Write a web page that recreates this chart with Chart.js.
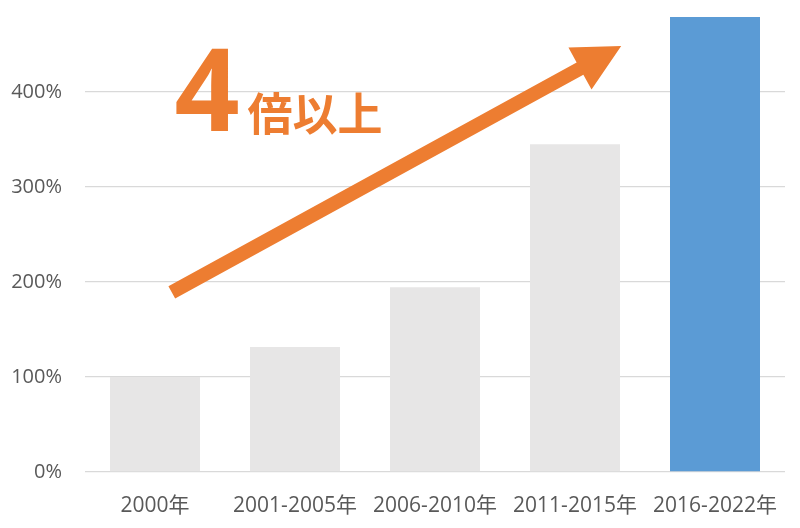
<!DOCTYPE html>
<html>
<head>
<meta charset="utf-8">
<script src="https://cdn.jsdelivr.net/npm/chart.js@4"></script>
<style>
  html, body { margin: 0; padding: 0; background: #fff; }
  #wrap { width: 800px; height: 528px; }
</style>
</head>
<body>
<div id="wrap"><canvas id="myChart"></canvas></div>
<script>
const categories = ['2000年', '2001-2005年', '2006-2010年', '2011-2015年', '2016-2022年'];
const values = [100, 131.5, 194.5, 345, 479];
const barColors = ['#e7e6e6', '#e7e6e6', '#e7e6e6', '#e7e6e6', '#5b9bd5'];
const yTicks = [0, 100, 200, 300, 400];

const FONT = "'Open Sans', 'Noto Sans CJK JP', sans-serif";
const ORANGE = '#ed7d31';

// arrow + "4倍以上" label, placed in (category index, value) space
const arrowFrom = [0.12, 189];
const arrowTo = [3.33, 448.5];
const bigLabel = { x: 0.14, y: 359 };
const smallLabel = { x: 0.66, y: 353 };

const overlay = {
  id: 'overlay',
  afterDatasetsDraw(chart) {
    const { ctx, scales: { x, y } } = chart;
    const px = i => x.getPixelForValue(0) + i * (x.getPixelForValue(1) - x.getPixelForValue(0));
    const x0 = px(arrowFrom[0]), y0 = y.getPixelForValue(arrowFrom[1]);
    const x1 = px(arrowTo[0]), y1 = y.getPixelForValue(arrowTo[1]);
    const ang = Math.atan2(y1 - y0, x1 - x0);
    const headLen = 47, headHalf = 24, shaft = 7;
    const bx = x1 - headLen * Math.cos(ang), by = y1 - headLen * Math.sin(ang);
    const nx = -Math.sin(ang), ny = Math.cos(ang);

    ctx.save();
    ctx.fillStyle = ORANGE;
    ctx.beginPath();
    ctx.moveTo(x0 + nx * shaft, y0 + ny * shaft);
    ctx.lineTo(bx + nx * shaft, by + ny * shaft);
    ctx.lineTo(bx + nx * headHalf, by + ny * headHalf);
    ctx.lineTo(x1, y1);
    ctx.lineTo(bx - nx * headHalf, by - ny * headHalf);
    ctx.lineTo(bx - nx * shaft, by - ny * shaft);
    ctx.lineTo(x0 - nx * shaft, y0 - ny * shaft);
    ctx.closePath();
    ctx.fill();

    ctx.textAlign = 'left';
    ctx.textBaseline = 'alphabetic';
    ctx.font = "bold 114px 'Noto Sans', sans-serif";
    ctx.fillText('4', px(bigLabel.x), y.getPixelForValue(bigLabel.y));
    ctx.textBaseline = 'bottom';
    ctx.font = "bold 45px 'Noto Sans CJK JP', sans-serif";
    ctx.fillText('倍以上', px(smallLabel.x), y.getPixelForValue(smallLabel.y));
    ctx.restore();
  }
};

new Chart(document.getElementById('myChart'), {
  type: 'bar',
  data: {
    labels: categories,
    datasets: [{
      data: values,
      backgroundColor: barColors,
      borderWidth: 0,
      barPercentage: 90 / 140,
      categoryPercentage: 1
    }]
  },
  options: {
    responsive: true,
    maintainAspectRatio: false,
    animation: false,
    layout: { padding: { top: 16, right: 15, left: 0, bottom: 0 } },
    plugins: { legend: { display: false }, tooltip: { enabled: false } },
    scales: {
      x: {
        grid: { display: false },
        border: { display: false },
        ticks: { color: '#595959', font: { family: FONT, size: 21 }, padding: 13, maxRotation: 0 },
        afterFit(s) { s.height = 56; }
      },
      y: {
        min: 0,
        max: 480,
        grid: { color: '#d9d9d9', lineWidth: 1.3, drawTicks: false },
        border: { display: false },
        ticks: {
          stepSize: 100,
          includeBounds: false,
          color: '#595959',
          font: { family: FONT, size: 20 },
          padding: 23,
          callback: v => yTicks.includes(v) ? v + '%' : ''
        },
        afterFit(s) { s.width = 85; s.paddingTop = 0; s.paddingBottom = 0; }
      }
    }
  },
  plugins: [overlay]
});
</script>
</body>
</html>
